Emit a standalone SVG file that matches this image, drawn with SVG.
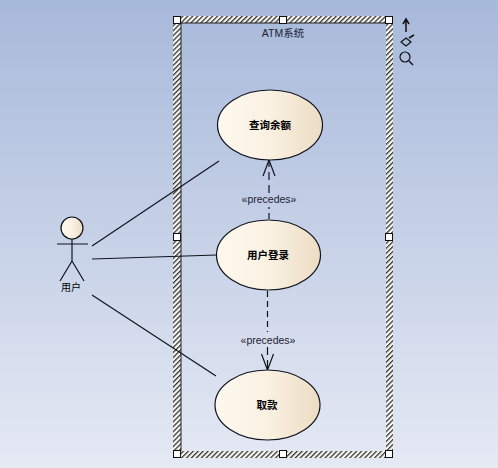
<svg xmlns="http://www.w3.org/2000/svg" width="498" height="468" viewBox="0 0 498 468">
<defs>
<linearGradient id="bg" x1="0" y1="0" x2="0" y2="1"><stop offset="0" stop-color="#a7b9da"/><stop offset="1" stop-color="#e5e9f4"/></linearGradient>
<linearGradient id="fill" x1="0" y1="0" x2="1" y2="0"><stop offset="0" stop-color="#fdf8ee"/><stop offset="0.5" stop-color="#faf1e2"/><stop offset="1" stop-color="#ecdcc3"/></linearGradient>
<pattern id="hatch" width="3.500" height="3.500" patternUnits="userSpaceOnUse" patternTransform="rotate(45)"><rect width="3.500" height="3.500" fill="#f8f8f4"/><rect width="1.300" height="3.500" fill="#333"/></pattern>
<marker id="open" markerWidth="18" markerHeight="24" refX="17" refY="12" orient="auto" markerUnits="userSpaceOnUse"><path d="M1 6L17 12L1 18" fill="none" stroke="#10141f" stroke-width="1.200"/></marker>
</defs>
<style>
.u{fill:url(#fill);stroke:#10141f;stroke-width:1.200}
.l{stroke:#10141f;stroke-width:1.200;fill:none}
.d{stroke-dasharray:8 5}
.h{fill:#fff;stroke:#111;stroke-width:1}
text{font-family:"Liberation Sans","Noto Sans CJK SC",sans-serif;font-size:10.500px;fill:#1c2233;text-anchor:middle}
.b{font-weight:bold;fill:#000;font-size:10.500px;font-family:"Noto Sans CJK SC","Liberation Sans",sans-serif}
.a{fill:#000;font-size:10px;font-family:"Noto Sans CJK SC","Liberation Sans",sans-serif}
</style>
<rect width="498" height="468" fill="url(#bg)"/>
<g id="system">
<path d="M173 16H393V458H173ZM181 23V451H386V23Z" fill="url(#hatch)" fill-rule="evenodd"/>
<path d="M181 451V23H386" fill="none" stroke="#222" stroke-width="1"/>
<text x="283" y="37">ATM系统</text>
</g>
<g id="connectors">
<path class="l d" d="M269 193V160" marker-end="url(#open)"/>
<path class="l" stroke-dasharray="6 4" d="M269 219V207"/>
<path class="l" stroke-dasharray="6 4" d="M267.500 291V332"/>
<path class="l d" d="M267.500 347V370" marker-end="url(#open)"/>
<path class="l" d="M92 246L219 161"/>
<path class="l" d="M92 259L217 255"/>
<path class="l" d="M92 295L216 376"/>
</g>
<g id="actor">
<circle class="u" cx="72" cy="228" r="11"/>
<path class="l" d="M72 239V261M57 244H88M72 261L60 281M72 261L84 281"/>
<text class="a" x="71" y="291">用户</text>
</g>
<g id="uc1"><ellipse class="u" cx="270" cy="125" rx="52.500" ry="35"/><text class="b" x="270" y="129">查询余额</text></g>
<g id="uc2"><ellipse class="u" cx="268.500" cy="255" rx="52" ry="35"/><text class="b" x="268" y="259">用户登录</text></g>
<g id="uc3"><ellipse class="u" cx="267.500" cy="405" rx="52.500" ry="35"/><text class="b" x="267" y="409">取款</text></g>
<text x="269" y="203">«precedes»</text>
<text x="268" y="344">«precedes»</text>
<g id="handles">
<rect class="h" x="173.500" y="16.500" width="7" height="7"/><rect class="h" x="279.500" y="16.500" width="7" height="7"/><rect class="h" x="385.500" y="16.500" width="7" height="7"/>
<rect class="h" x="173.500" y="233.500" width="7" height="7"/><rect class="h" x="385.500" y="233.500" width="7" height="7"/>
<rect class="h" x="173.500" y="450.500" width="7" height="7"/><rect class="h" x="279.500" y="450.500" width="7" height="7"/><rect class="h" x="385.500" y="450.500" width="7" height="7"/>
</g>
<g id="tools" fill="none" stroke="#111" stroke-width="1.200">
<path d="M406 32V20M403 24L406 19L409 24" stroke-width="1.500"/>
<path d="M401 42L406 38L411 42L406 46Z"/><path d="M409 38L414 35" stroke-width="1.500"/>
<circle cx="405" cy="57" r="5"/><path d="M409 61L413 65" stroke-width="1.500"/>
</g>
</svg>
